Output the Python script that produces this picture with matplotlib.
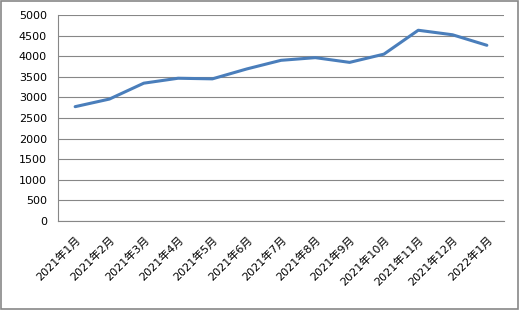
import matplotlib
matplotlib.use("Agg")
import matplotlib.pyplot as plt
from matplotlib.patches import Rectangle

plt.rcParams['font.family'] = ['DejaVu Sans', 'Noto Sans CJK SC']

# monthly values
months = ["2021年1月", "2021年2月", "2021年3月", "2021年4月", "2021年5月", "2021年6月",
          "2021年7月", "2021年8月", "2021年9月", "2021年10月", "2021年11月", "2021年12月",
          "2022年1月"]
values = [2775, 2960, 3345, 3465, 3450, 3690, 3900, 3965, 3850, 4050, 4630, 4520, 4265]
yticks = list(range(0, 5001, 500))

fig = plt.figure(figsize=(5.2, 3.1), dpi=100)
ax = fig.add_axes([58 / 520, 1 - 221 / 310, 446 / 520, 206 / 310])

x = list(range(len(months)))
ax.plot(x, values, color="#4A7EBB", linewidth=2.2, solid_capstyle="round", zorder=3)

ax.set_xlim(-0.5, len(months) - 0.5)
ax.set_ylim(0, 5000)
ax.set_yticks(yticks)
ax.set_yticklabels([str(v) for v in yticks], fontsize=8)
ax.set_xticks(x)
ax.set_xticklabels(months, fontsize=8, rotation=45, ha="right", rotation_mode="anchor")
ax.tick_params(axis="y", length=0, pad=8)
ax.tick_params(axis="x", length=0, pad=10)

ax.grid(axis="y", color="#878787", linewidth=0.8)
ax.set_axisbelow(True)
for side in ["top", "right"]:
    ax.spines[side].set_visible(False)
for side in ["left", "bottom"]:
    ax.spines[side].set_color("#878787")
    ax.spines[side].set_linewidth(0.8)

# outer chart border
fig.patches.append(Rectangle((0.002, 0.003), 0.995, 0.993, transform=fig.transFigure,
                             fill=False, edgecolor="#878787", linewidth=1.2))

fig.savefig("out.png", dpi=100)
